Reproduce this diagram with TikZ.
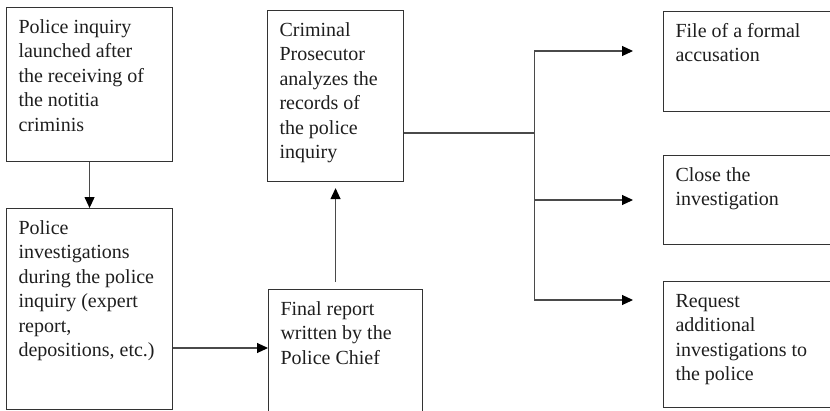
\documentclass[tikz,border=0pt]{standalone}
\usepackage{fontspec}
\setmainfont{Liberation Serif}
\usepackage{tikz}
\usetikzlibrary{arrows.meta, positioning, calc}
\definecolor{edgegray}{HTML}{333333}
\definecolor{linegray}{HTML}{4A4A4A}
\definecolor{inkgray}{HTML}{1E1E1E}
\newcommand{\boxtext}[3]{\parbox[t][\dimexpr #2-17pt\relax][t]{\dimexpr #1-24pt\relax}{\raggedright\strut #3}}
\tikzstyle{arrow} = [line width=1.1pt, draw=linegray, -{Triangle[length=11pt,width=10pt,color=black]}]
\tikzstyle{line} = [line width=1.1pt, draw=linegray]
\tikzstyle{stage} = [rectangle, draw=edgegray, line width=1.1pt, anchor=north west, inner xsep=12pt, inner ysep=8.5pt, text=inkgray, font=\rmfamily\fontsize{20}{24.5}\selectfont]

\begin{document}
\begin{tikzpicture}[x=1pt, y=-1pt]
    \useasboundingbox (0,0) rectangle (830,410);
    \clip (0,0) rectangle (830,410);

    % Police side
    \node[stage] (inquiry) at (6,7) {\boxtext{166pt}{154pt}{Police inquiry\\ launched after\\ the receiving of\\ the notitia\\ criminis}};
    \node[stage] (investig) at (6,208) {\boxtext{166pt}{201pt}{Police\\ investigations\\ during the police\\ inquiry (expert\\ report,\\ depositions, etc.)}};
    \node[stage] (report) at (268,289) {\boxtext{154pt}{140pt}{Final report\\ written by the\\ Police Chief}};

    % Prosecutor
    \node[stage] (prosecutor) at (267,10) {\boxtext{136pt}{171pt}{Criminal\\ Prosecutor\\ analyzes the\\ records of\\ the police\\ inquiry}};

    % Outcomes
    \node[stage] (accusation) at (663,11) {\boxtext{180pt}{100pt}{File of a formal\\ accusation}};
    \node[stage] (close) at (663,155) {\boxtext{180pt}{89pt}{Close the\\ investigation}};
    \node[stage] (request) at (663,281) {\boxtext{180pt}{126pt}{Request\\ additional\\ investigations to\\ the police}};

    % Connectors
    \draw[arrow] (inquiry.south) -- (investig.north);
    \draw[arrow] ([yshift=-140pt]investig.north east) -- ([yshift=-59pt]report.north west);
    \draw[arrow, shorten <=7pt, shorten >=6pt] (report.north -| prosecutor.south) -- (prosecutor.south);

    \coordinate (fork) at ([xshift=130pt, yshift=-123pt]prosecutor.north east);
    \coordinate (acc in) at ([yshift=-40pt]accusation.north west);
    \coordinate (close in) at ([yshift=-45pt]close.north west);
    \coordinate (req in) at ([yshift=-19pt]request.north west);

    \draw[line] ([yshift=-123pt]prosecutor.north east) -- (fork);
    \draw[line] (fork |- acc in) -- (fork |- req in);
    \draw[arrow, shorten >=30pt] (fork |- acc in) -- (acc in);
    \draw[arrow, shorten >=30pt] (fork |- close in) -- (close in);
    \draw[arrow, shorten >=30pt] (fork |- req in) -- (req in);

\end{tikzpicture}
\end{document}
